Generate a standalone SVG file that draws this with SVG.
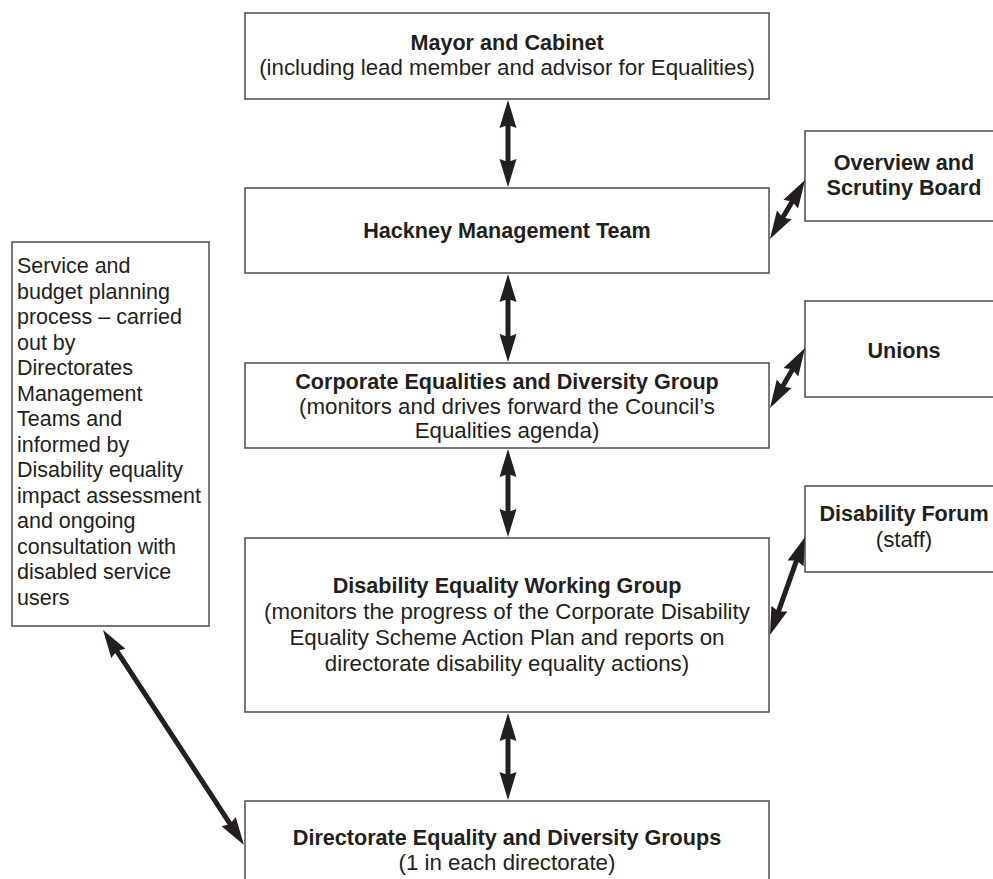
<svg xmlns="http://www.w3.org/2000/svg" width="993" height="879" viewBox="0 0 993 879">
<defs>
<style>
.box{fill:#fff;stroke:#4d4d4d;stroke-width:1.5}
.t{font-family:"Liberation Sans",Arial,sans-serif;font-size:22.3px;fill:#231f20;text-anchor:middle}
.b{font-weight:bold;font-size:21.6px}
.l{text-anchor:start;font-size:21.5px}
.arr{stroke:#231f20;stroke-width:5;fill:none;marker-start:url(#ah);marker-end:url(#ah)}
</style>
<marker id="ah" markerUnits="userSpaceOnUse" viewBox="-20 -10 40 20" refX="0" refY="0" markerWidth="40" markerHeight="20" orient="auto-start-reverse" overflow="visible">
<path d="M-14,-8.5 L14,0 L-14,8.5 L-11,0 Z" fill="#231f20"/>
</marker>
</defs>
<rect width="993" height="879" fill="#fff"/>
<g id="mayor">
<rect class="box" x="245" y="13" width="524" height="86"/>
<text class="t b" x="507" y="50">Mayor and Cabinet</text>
<text class="t" x="507" y="75">(including lead member and advisor for Equalities)</text>
</g>
<g id="hackney">
<rect class="box" x="245" y="188" width="524" height="85"/>
<text class="t b" x="507" y="238">Hackney Management Team</text>
</g>
<g id="overview">
<rect class="box" x="805" y="131" width="200" height="90"/>
<text class="t b" x="904" y="170">Overview and</text>
<text class="t b" x="904" y="195">Scrutiny Board</text>
</g>
<g id="corporate">
<rect class="box" x="245" y="363" width="524" height="85"/>
<text class="t b" x="507" y="389">Corporate Equalities and Diversity Group</text>
<text class="t" x="507" y="414">(monitors and drives forward the Council’s</text>
<text class="t" x="507" y="438">Equalities agenda)</text>
</g>
<g id="unions">
<rect class="box" x="805" y="301" width="200" height="96"/>
<text class="t b" x="904" y="358">Unions</text>
</g>
<g id="dwg">
<rect class="box" x="245" y="538" width="524" height="174"/>
<text class="t b" x="507" y="593">Disability Equality Working Group</text>
<text class="t" x="507" y="619">(monitors the progress of the Corporate Disability</text>
<text class="t" x="507" y="645">Equality Scheme Action Plan and reports on</text>
<text class="t" x="507" y="671">directorate disability equality actions)</text>
</g>
<g id="forum">
<rect class="box" x="805" y="486" width="200" height="86"/>
<text class="t b" x="904" y="521">Disability Forum</text>
<text class="t" x="904" y="547">(staff)</text>
</g>
<g id="directorate">
<rect class="box" x="245" y="801" width="524" height="95"/>
<text class="t b" x="507" y="845">Directorate Equality and Diversity Groups</text>
<text class="t" x="507" y="870">(1 in each directorate)</text>
</g>
<g id="planning">
<rect class="box" x="12" y="242" width="197" height="384"/>
<text class="t l" x="17" y="273">Service and</text>
<text class="t l" x="17" y="298.5">budget planning</text>
<text class="t l" x="17" y="324">process – carried</text>
<text class="t l" x="17" y="349.5">out by</text>
<text class="t l" x="17" y="375">Directorates</text>
<text class="t l" x="17" y="400.5">Management</text>
<text class="t l" x="17" y="426">Teams and</text>
<text class="t l" x="17" y="451.5">informed by</text>
<text class="t l" x="17" y="477">Disability equality</text>
<text class="t l" x="17" y="502.5">impact assessment</text>
<text class="t l" x="17" y="528">and ongoing</text>
<text class="t l" x="17" y="553.5">consultation with</text>
<text class="t l" x="17" y="579">disabled service</text>
<text class="t l" x="17" y="604.5">users</text>
</g>
<g id="connectors">
<line class="arr" x1="508" y1="114" x2="508" y2="173"/>
<line class="arr" x1="508" y1="288" x2="508" y2="348"/>
<line class="arr" x1="508" y1="463" x2="508" y2="523"/>
<line class="arr" x1="508" y1="727" x2="508" y2="786"/>
<line class="arr" x1="777.1" y1="227" x2="797.9" y2="192"/>
<line class="arr" x1="777.05" y1="395.9" x2="797.95" y2="360.1"/>
<line class="arr" x1="774.7" y1="621.8" x2="800.3" y2="550.2"/>
<line class="arr" x1="110.7" y1="641.7" x2="236.3" y2="833.3"/>
</g>
</svg>
